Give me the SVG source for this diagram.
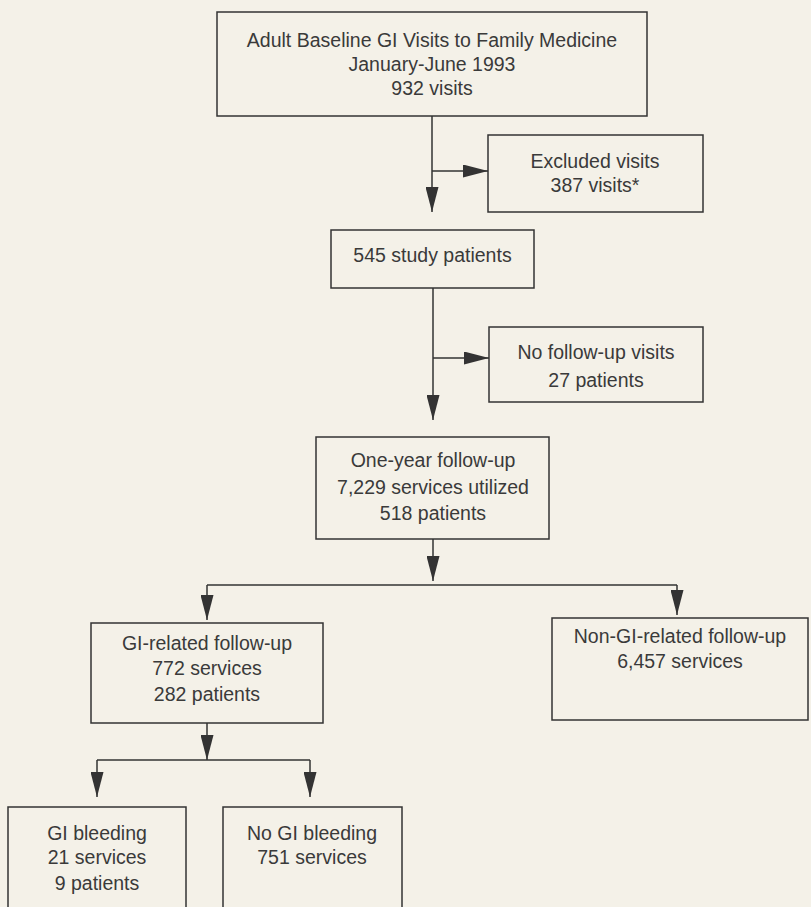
<svg xmlns="http://www.w3.org/2000/svg" width="811" height="907" viewBox="0 0 811 907">
<style>
.box{fill:none;stroke:#333;stroke-width:1.5}
.t{font-family:"Liberation Sans",Arial,sans-serif;font-size:19.5px;fill:#3a3a3a;text-anchor:middle}
.c{fill:none;stroke:#333;stroke-width:1.5}
</style>
<defs>
<marker id="ah" viewBox="0 0 25 13" refX="25" refY="6.5" markerWidth="25" markerHeight="13" markerUnits="userSpaceOnUse" orient="auto">
<path d="M0,0 L25,6.5 L0,13 z" fill="#333"/>
</marker>
</defs>
<rect width="811" height="907" fill="#f4f1e8"/>
<g id="connectors">
<path class="c" d="M432,116 V212" marker-end="url(#ah)"/>
<path class="c" d="M432,171 H488" marker-end="url(#ah)"/>
<path class="c" d="M433,288 V420" marker-end="url(#ah)"/>
<path class="c" d="M433,358 H489" marker-end="url(#ah)"/>
<path class="c" d="M433,539 V581" marker-end="url(#ah)"/>
<path class="c" d="M207,585 H677"/>
<path class="c" d="M207,585 V620" marker-end="url(#ah)"/>
<path class="c" d="M677,585 V615" marker-end="url(#ah)"/>
<path class="c" d="M207,723 V760" marker-end="url(#ah)"/>
<path class="c" d="M97,760 H310"/>
<path class="c" d="M97,760 V797" marker-end="url(#ah)"/>
<path class="c" d="M310,760 V797" marker-end="url(#ah)"/>
</g>
<g id="baseline">
<rect class="box" x="217" y="12" width="430" height="104"/>
<text class="t" x="432" y="47">Adult Baseline GI Visits to Family Medicine</text>
<text class="t" x="432" y="71">January-June 1993</text>
<text class="t" x="432" y="95">932 visits</text>
</g>
<g id="excluded">
<rect class="box" x="488" y="135" width="215" height="77"/>
<text class="t" x="595" y="168">Excluded visits</text>
<text class="t" x="595" y="192">387 visits*</text>
</g>
<g id="study">
<rect class="box" x="331" y="230" width="203" height="58"/>
<text class="t" x="432.5" y="262">545 study patients</text>
</g>
<g id="nofollowup">
<rect class="box" x="489" y="327" width="214" height="75"/>
<text class="t" x="596" y="359">No follow-up visits</text>
<text class="t" x="596" y="387">27 patients</text>
</g>
<g id="oneyear">
<rect class="box" x="316" y="437" width="233" height="102"/>
<text class="t" x="433" y="467">One-year follow-up</text>
<text class="t" x="433" y="494">7,229 services utilized</text>
<text class="t" x="433" y="520">518 patients</text>
</g>
<g id="gi">
<rect class="box" x="91" y="623" width="232" height="100"/>
<text class="t" x="207" y="650">GI-related follow-up</text>
<text class="t" x="207" y="675">772 services</text>
<text class="t" x="207" y="701">282 patients</text>
</g>
<g id="nongi">
<rect class="box" x="552" y="618" width="256" height="102"/>
<text class="t" x="680" y="643">Non-GI-related follow-up</text>
<text class="t" x="680" y="668">6,457 services</text>
</g>
<g id="bleeding">
<rect class="box" x="8" y="807" width="178" height="120"/>
<text class="t" x="97" y="840">GI bleeding</text>
<text class="t" x="97" y="864">21 services</text>
<text class="t" x="97" y="890">9 patients</text>
</g>
<g id="nobleeding">
<rect class="box" x="223" y="807" width="179" height="120"/>
<text class="t" x="312" y="840">No GI bleeding</text>
<text class="t" x="312" y="864">751 services</text>
</g>
</svg>
